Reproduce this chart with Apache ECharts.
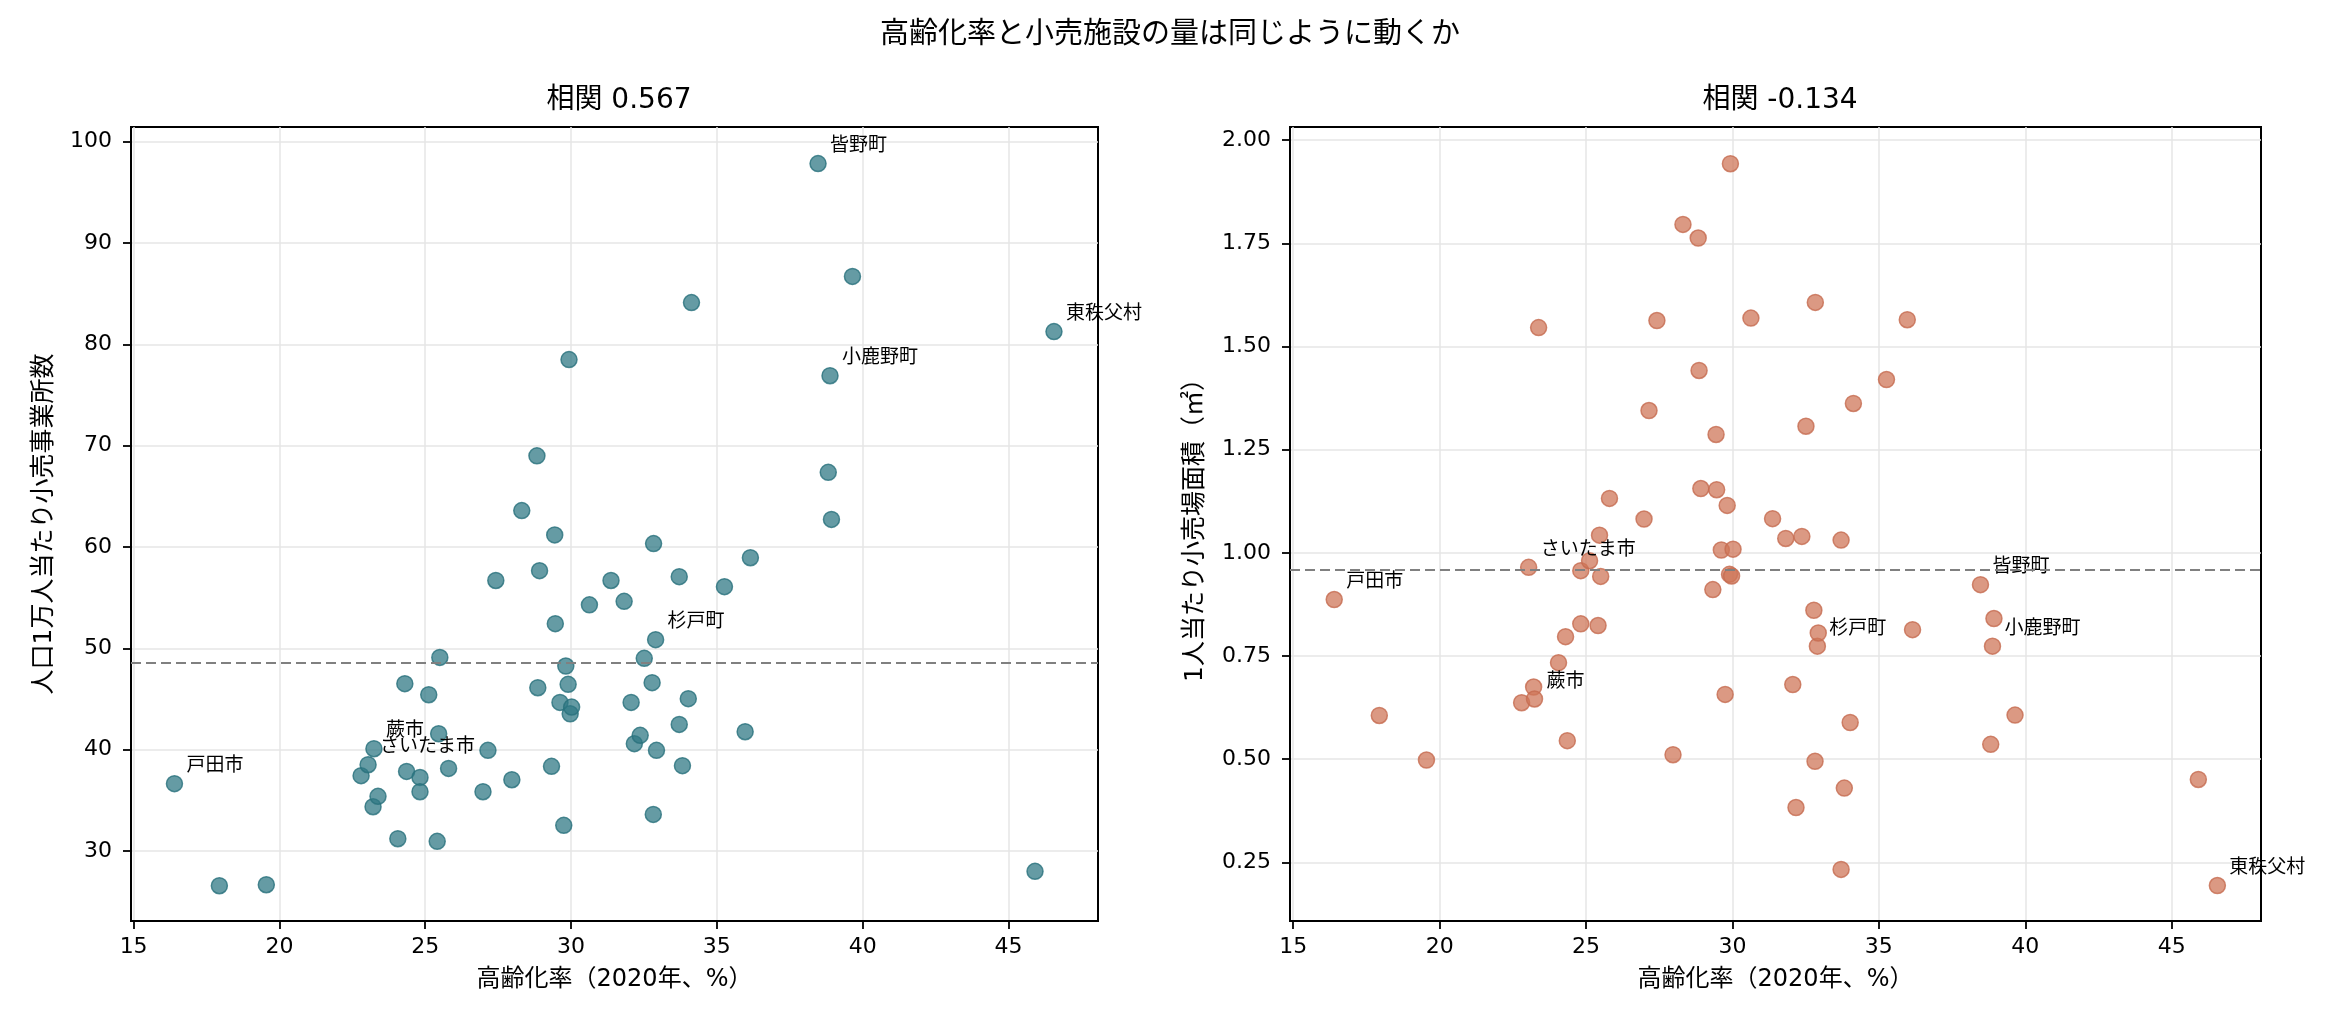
<!DOCTYPE html>
<html>
<head>
<meta charset="utf-8">
<script src="https://cdn.jsdelivr.net/npm/echarts@6/dist/echarts.min.js"></script>
<style>
html,body{margin:0;padding:0;background:#fff;}
#chart{width:2340px;height:1026px;}
</style>
</head>
<body>
<div id="chart"></div>
<script>
// 高齢化率（2020年、%）
const aging = [16.4, 17.94, 19.55, 22.8, 23.04, 23.21, 23.24, 23.38, 24.06, 24.3,
  24.36, 24.82, 24.82, 25.12, 25.41, 25.46, 25.5, 25.8, 26.98, 27.15,
  27.42, 27.97, 28.31, 28.83, 28.86, 28.92, 29.33, 29.44, 29.46, 29.62,
  29.75, 29.82, 29.9, 29.93, 29.97, 30.02, 30.63, 31.37, 31.82, 32.06,
  32.17, 32.37, 32.51, 32.78, 32.83, 32.82, 32.9, 32.93, 33.71, 33.71,
  33.82, 34.02, 34.13, 35.26, 35.97, 36.15, 38.47, 38.82, 38.88, 38.93,
  39.65, 45.91, 46.56];
// 人口1万人当たり小売事業所数
const storesPer10k = [36.65, 26.58, 26.68, 37.44, 38.52, 34.38, 40.1, 35.4, 31.22, 46.52,
  37.86, 37.27, 35.86, 45.43, 30.96, 41.58, 49.11, 38.16, 35.86, 39.94,
  56.7, 37.04, 63.6, 69.0, 46.12, 57.67, 38.36, 61.2, 52.44, 44.67,
  32.54, 48.26, 46.45, 78.5, 43.55, 44.21, 54.3, 56.7, 54.64, 44.67,
  40.6, 41.42, 49.02, 46.62, 60.34, 33.62, 50.86, 39.94, 57.08, 42.5,
  38.43, 45.04, 84.12, 56.09, 41.78, 58.95, 97.84, 67.37, 76.91, 62.73,
  86.71, 28.0, 81.26];
// 1人当たり小売場面積（㎡）
const floorPerCapita = [0.887, 0.606, 0.498, 0.637, 0.965, 0.675, 0.646, 1.546, 0.734, 0.797,
  0.545, 0.957, 0.828, 0.981, 0.824, 1.043, 0.943, 1.132, 1.082, 1.345,
  1.563, 0.511, 1.796, 1.763, 1.442, 1.156, 0.911, 1.287, 1.153, 1.007,
  0.657, 1.115, 0.948, 1.943, 0.944, 1.009, 1.569, 1.083, 1.035, 0.681,
  0.383, 1.04, 1.307, 0.861, 1.607, 0.495, 0.774, 0.806, 1.031, 0.233,
  0.43, 0.589, 1.362, 1.42, 1.565, 0.814, 0.923, 0.536, 0.774, 0.841,
  0.607, 0.451, 0.194];
const labelIndex = [0, 4, 6, 46, 56, 58, 62];
const labelNames = ['戸田市', 'さいたま市', '蕨市', '杉戸町', '皆野町', '小鹿野町', '東秩父村'];
const meanStores = 48.6;
const meanFloor = 0.957;
const xTicks = [15, 20, 25, 30, 35, 40, 45];
const yTicksLeft = [30, 40, 50, 60, 70, 80, 90, 100];
const yTicksRight = [0.25, 0.5, 0.75, 1.0, 1.25, 1.5, 1.75, 2.0];
const suptitle = '高齢化率と小売施設の量は同じように動くか';
const titleLeft = '相関 0.567';
const titleRight = '相関 -0.134';
const xName = '高齢化率（2020年、%）';
const yNameLeft = '人口1万人当たり小売事業所数';
const yNameRight = '1人当たり小売場面積（㎡）';

const FONT = '"DejaVu Sans", "Noto Sans CJK JP", sans-serif';
const CJK = '"Noto Sans CJK JP", "DejaVu Sans", sans-serif';

function xAxisCfg(gi, min, max) {
  return {
    type: 'value', gridIndex: gi, min: min, max: max,
    name: xName, nameLocation: 'middle', nameGap: 47,
    nameTextStyle: {fontSize: 24, color: '#000', fontFamily: FONT},
    axisLine: {show: true, onZero: false, lineStyle: {color: '#000', width: 2}},
    axisTick: {show: true, length: 8, customValues: xTicks, lineStyle: {color: '#000', width: 1.8}},
    axisLabel: {customValues: xTicks, fontSize: 22, color: '#000', margin: 15, fontFamily: FONT},
    splitLine: {show: true, lineStyle: {color: '#e6e6e6', width: 1.5}}
  };
}
function yAxisCfg(gi, min, max, ticks, name, gap, fmt) {
  return {
    type: 'value', gridIndex: gi, min: min, max: max, splitNumber: 8,
    name: name, nameLocation: 'middle', nameGap: gap,
    nameTextStyle: {fontSize: 25, color: '#000', fontFamily: FONT},
    axisLine: {show: true, onZero: false, lineStyle: {color: '#000', width: 2}},
    axisTick: {show: true, length: 8, customValues: ticks, lineStyle: {color: '#000', width: 1.8}},
    axisLabel: {customValues: ticks, fontSize: 22, color: '#000', margin: 19, fontFamily: FONT, formatter: fmt},
    splitLine: {show: true, lineStyle: {color: '#e6e6e6', width: 1.5}}
  };
}
function mkData(ys) {
  return aging.map(function (x, i) {
    const k = labelIndex.indexOf(i);
    const d = {value: [x, ys[i]]};
    if (k >= 0) d.label = {show: true, formatter: labelNames[k]};
    return d;
  });
}
function series(idx, ys, fill, stroke, mean) {
  return {
    type: 'scatter', xAxisIndex: idx, yAxisIndex: idx, clip: false,
    data: mkData(ys), symbol: 'circle', symbolSize: 16,
    itemStyle: {color: fill, borderColor: stroke, borderWidth: 1.5, opacity: 1},
    label: {show: false, position: 'inside', align: 'left', verticalAlign: 'bottom',
      offset: [12, -10], fontSize: 19, color: '#000', opacity: 1, fontFamily: CJK},
    emphasis: {disabled: true},
    markLine: {
      silent: true, symbol: 'none', animation: false,
      label: {show: false},
      lineStyle: {color: '#808080', type: [10, 5], width: 2},
      data: [{yAxis: mean}]
    }
  };
}

const chart = echarts.init(document.getElementById('chart'), null, {renderer: 'canvas'});
chart.setOption({
  animation: false,
  backgroundColor: '#fff',
  textStyle: {fontFamily: FONT},
  title: [
    {text: suptitle, left: 'center', top: 12, textStyle: {fontSize: 29, fontWeight: 'normal', color: '#000', fontFamily: CJK}},
    {text: titleLeft, left: 614, top: 82, textAlign: 'center', textStyle: {fontSize: 28, fontWeight: 'normal', color: '#000', fontFamily: FONT}},
    {text: titleRight, left: 1775, top: 82, textAlign: 'center', textStyle: {fontSize: 28, fontWeight: 'normal', color: '#000', fontFamily: FONT}}
  ],
  grid: [
    {left: 131, top: 127, width: 967, height: 794, show: true, borderColor: '#000', borderWidth: 2, backgroundColor: 'transparent'},
    {left: 1290, top: 127, width: 971, height: 794, show: true, borderColor: '#000', borderWidth: 2, backgroundColor: 'transparent'}
  ],
  xAxis: [xAxisCfg(0, 14.91, 48.07), xAxisCfg(1, 14.89, 48.05)],
  yAxis: [
    yAxisCfg(0, 23.1, 101.45, yTicksLeft, yNameLeft, 74, function (v) { return String(Math.round(v)); }),
    yAxisCfg(1, 0.108, 2.032, yTicksRight, yNameRight, 82, function (v) { return v.toFixed(2); })
  ],
  series: [
    series(0, storesPer10k, 'rgba(47,120,132,0.74)', 'rgba(40,112,124,0.8)', meanStores),
    series(1, floorPerCapita, 'rgba(206,117,88,0.74)', 'rgba(198,108,80,0.8)', meanFloor)
  ]
});
</script>
</body>
</html>
